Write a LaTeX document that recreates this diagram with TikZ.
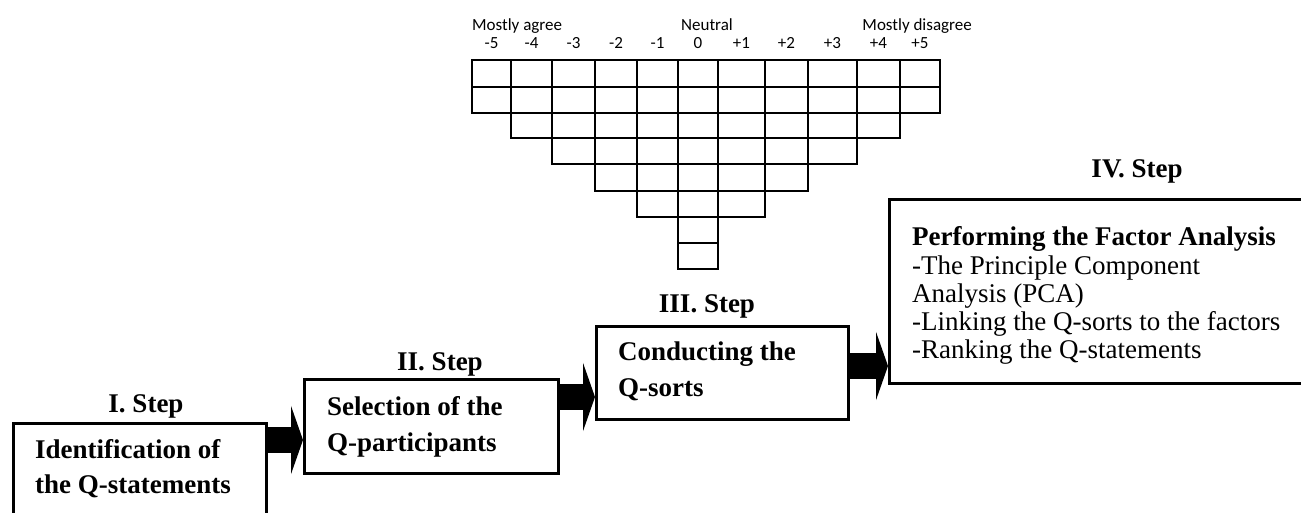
\documentclass[tikz,border=0pt]{standalone}
\usepackage{fontspec}
\setmainfont{Liberation Serif}
\newfontfamily\calib{Carlito}
\usetikzlibrary{arrows.meta}
\tikzset{
  cell/.style={draw=black, line width=2pt},
  scalelabel/.style={font=\calib\fontsize{17}{20}\selectfont, inner sep=0pt, anchor=base},
  stepbox/.style={draw=black, line width=3pt, inner sep=0pt, anchor=north west, fill=white},
  steplabel/.style={font=\bfseries\fontsize{27}{30}\selectfont, inner sep=0pt, anchor=base},
  boxtext/.style={font=\fontsize{27}{30}\selectfont, inner sep=0pt, anchor=base west},
  boxtitle/.style={boxtext, font=\bfseries\fontsize{27}{30}\selectfont},
  blockarrow/.style={line width=26pt, draw=black, -{Triangle[length=12pt 0 0, width=68pt 0 0]}}
}
\begin{document}
\begin{tikzpicture}[x=1pt, y=-1pt]
\useasboundingbox (0,0) rectangle (1301,512);
\clip (0,0) rectangle (1301,512);
\fill[white] (0,0) rectangle (1301,512);

% Q-sort grid
\def\cx{{472,511,552,595,637,678,718,765,808,857,900,940}}
\def\ry{{60,87,113,138,164,191,217,243,269}}
\foreach \r/\a/\b in {0/0/10, 1/0/10, 2/1/9, 3/2/8, 4/3/7, 5/4/6, 6/5/5, 7/5/5} {
  \foreach \c in {\a,...,\b} {
    \pgfmathsetmacro\xl{\cx[\c]}
    \pgfmathsetmacro\xr{\cx[\c+1]}
    \pgfmathsetmacro\yt{\ry[\r]}
    \pgfmathsetmacro\yb{\ry[\r+1]}
    \draw[cell] (\xl,\yt) rectangle (\xr,\yb);
  }
}
% scale numbers
\foreach \c/\t in {0/-5, 1/-4, 2/-3, 3/-2, 4/-1, 5/0, 6/+1, 7/+2, 8/+3, 9/+4, 10/+5} {
  \pgfmathsetmacro\xl{\cx[\c]}
  \pgfmathsetmacro\xr{\cx[\c+1]}
  \pgfmathsetmacro\xm{(\xl+\xr)/2}
  \node[scalelabel] (n\c) at (\xm,48) {\t};
}
\node[scalelabel, anchor=base west] (agree) at (472,30) {Mostly agree};
\node[scalelabel] (neutral) at (707,30) {Neutral};
\node[scalelabel, anchor=base east] (disagree) at (972,30) {Mostly disagree};

% boxes
\node[stepbox, minimum width=253pt, minimum height=130pt] (b1) at (12,422) {};
\node[stepbox, minimum width=254pt, minimum height=94pt] (b2) at (303,378) {};
\node[stepbox, minimum width=252pt, minimum height=93pt] (b3) at (595,325) {};
\node[stepbox, minimum width=450pt, minimum height=184pt] (b4) at (888,198) {};

% step labels
\node[steplabel] (s1) at (146,412) {I. Step};
\node[steplabel] (s2) at (440,370) {II. Step};
\node[steplabel] (s3) at (707,312) {III. Step};
\node[steplabel] (s4) at (1137,177) {IV. Step};

% box texts
\node[boxtitle] (t1a) at (35,458) {Identification of};
\node[boxtitle] (t1b) at (35,493) {the Q-statements};
\node[boxtitle] (t2a) at (327,415) {Selection of the};
\node[boxtitle] (t2b) at (327,451) {Q-participants};
\node[boxtitle] (t3a) at (618,360) {Conducting the};
\node[boxtitle] (t3b) at (618,396) {Q-sorts};
\node[boxtitle] (t4a) at (912,245) {Performing the Factor Analysis};
\node[boxtext] (t4b) at (912,274) {-The Principle Component};
\node[boxtext] (t4c) at (912,302) {Analysis (PCA)};
\node[boxtext] (t4d) at (912,330) {-Linking the Q-sorts to the factors};
\node[boxtext] (t4e) at (912,358) {-Ranking the Q-statements};

% arrows
\coordinate (a1) at (0,440);
\coordinate (a2) at (0,397);
\coordinate (a3) at (0,366);
\draw[blockarrow] (b1.east |- a1) -- (b2.west |- a1);
\draw[blockarrow] (b2.east |- a2) -- (b3.west |- a2);
\draw[blockarrow] (b3.east |- a3) -- (b4.west |- a3);
\end{tikzpicture}
\end{document}
